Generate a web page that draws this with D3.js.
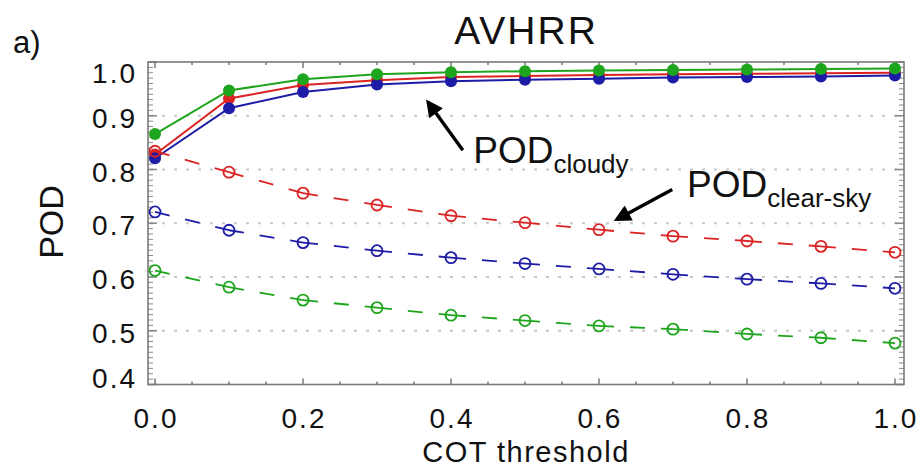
<!DOCTYPE html>
<html>
<head>
<meta charset="utf-8">
<script src="https://cdn.jsdelivr.net/npm/d3@7"></script>
<style>
  body { margin: 0; background: #fff; }
  text { font-family: "Liberation Sans", Arial, Helvetica, sans-serif; fill: #111; }
</style>
</head>
<body>
<div id="container"></div>
<script>
// data
const cot = [0.0, 0.1, 0.2, 0.3, 0.4, 0.5, 0.6, 0.7, 0.8, 0.9, 1.0];

const cloudyRed   = [0.828, 0.932, 0.957, 0.966, 0.972, 0.974, 0.976, 0.977, 0.978, 0.979, 0.980];
const cloudyBlue  = [0.821, 0.914, 0.944, 0.958, 0.964, 0.967, 0.969, 0.971, 0.972, 0.973, 0.975];
const cloudyGreen = [0.866, 0.947, 0.968, 0.977, 0.981, 0.983, 0.984, 0.985, 0.986, 0.987, 0.988];

const clearRed   = [0.834, 0.795, 0.756, 0.734, 0.714, 0.701, 0.688, 0.676, 0.667, 0.657, 0.646];
const clearBlue  = [0.721, 0.687, 0.664, 0.649, 0.636, 0.625, 0.615, 0.605, 0.596, 0.588, 0.579];
const clearGreen = [0.612, 0.581, 0.557, 0.543, 0.529, 0.519, 0.509, 0.503, 0.494, 0.487, 0.477];

const yTicks = [0.4, 0.5, 0.6, 0.7, 0.8, 0.9, 1.0];
const xTicks = [0.0, 0.2, 0.4, 0.6, 0.8, 1.0];
const gridLevels = [0.5, 0.6, 0.7, 0.8, 0.9];

const colors = { red: "#dc2323", blue: "#1c1ca6", green: "#1ea51e" };

/**
 * CONSTANTS
 * */
const width = 922, height = 467;
const frame = { left: 148, right: 904, top: 62, bottom: 384.5 };

const svg = d3.select("#container")
  .append("svg")
  .attr("width", width)
  .attr("height", height);

// x: 0 sits a little inside the left frame, 1.0 a little inside the right one
const x = d3.scaleLinear().domain([-0.0095, 1.0122]).range([frame.left, frame.right]);
const y = d3.scaleLinear().domain([0.4, 1.0]).range([frame.bottom, frame.top]);

// dotted grid
svg.selectAll(".grid")
  .data(gridLevels)
  .join("line")
  .attr("class", "grid")
  .attr("x1", frame.left + 2).attr("x2", frame.right - 2)
  .attr("y1", d => y(d)).attr("y2", d => y(d))
  .attr("stroke", "#c8c8c8")
  .attr("stroke-width", 2)
  .attr("stroke-dasharray", "3,9");

// minor/major ticks, IDL style (inward on all four sides)
const tickColor = "#8a8a8a";
const yMinor = d3.range(0, 61).map(i => 0.4 + i * 0.01);
const xMinor = d3.range(0, 21).map(i => i * 0.05);

[frame.left, frame.right].forEach((fx, side) => {
  const dir = side === 0 ? 1 : -1;
  svg.append("g").selectAll("line")
    .data(yMinor)
    .join("line")
    .attr("x1", fx)
    .attr("x2", (d, i) => fx + dir * (i % 10 === 0 ? 9 : 5))
    .attr("y1", d => y(d)).attr("y2", d => y(d))
    .attr("stroke", tickColor)
    .attr("stroke-width", (d, i) => i % 10 === 0 ? 1.6 : 1);
});

[frame.bottom, frame.top].forEach((fy, side) => {
  const dir = side === 0 ? -1 : 1;
  svg.append("g").selectAll("line")
    .data(xMinor)
    .join("line")
    .attr("x1", d => x(d)).attr("x2", d => x(d))
    .attr("y1", fy)
    .attr("y2", (d, i) => fy + dir * (i % 4 === 0 ? 6 : 3))
    .attr("stroke", "#555")
    .attr("stroke-width", 1.2);
});

// frame
svg.append("rect")
  .attr("x", frame.left).attr("y", frame.top)
  .attr("width", frame.right - frame.left)
  .attr("height", frame.bottom - frame.top)
  .attr("fill", "none")
  .attr("stroke", "#7a7a7a")
  .attr("stroke-width", 1.6);

// tick labels
svg.selectAll(".ylab")
  .data(yTicks)
  .join("text")
  .attr("class", "ylab")
  .attr("x", 137)
  .attr("y", d => {
    let c = y(d) + 2;
    c = Math.max(frame.top + 11, Math.min(frame.bottom - 7, c));
    return c + 10;
  })
  .attr("text-anchor", "end")
  .attr("font-size", 28)
  .attr("letter-spacing", 2)
  .text(d => d3.format(".1f")(d));

svg.selectAll(".xlab")
  .data(xTicks)
  .join("text")
  .attr("class", "xlab")
  .attr("x", d => x(d) + 1)
  .attr("y", 428)
  .attr("text-anchor", "middle")
  .attr("font-size", 28)
  .attr("letter-spacing", 2)
  .text(d => d3.format(".1f")(d));

// axis titles
svg.append("text")
  .attr("x", 526).attr("y", 462)
  .attr("text-anchor", "middle")
  .attr("font-size", 29)
  .attr("letter-spacing", 1.5)
  .text("COT threshold");

svg.append("text")
  .attr("transform", "translate(63,222) rotate(-90)")
  .attr("text-anchor", "middle")
  .attr("font-size", 34)
  .text("POD");

svg.append("text")
  .attr("x", 526).attr("y", 44)
  .attr("text-anchor", "middle")
  .attr("font-size", 39)
  .attr("letter-spacing", 2)
  .text("AVHRR");

svg.append("text")
  .attr("x", 13).attr("y", 53)
  .attr("font-size", 31)
  .text("a)");

// series
const cloudy = [
  { color: colors.red, values: cloudyRed },
  { color: colors.blue, values: cloudyBlue },
  { color: colors.green, values: cloudyGreen }
];
const clear = [
  { color: colors.red, values: clearRed },
  { color: colors.blue, values: clearBlue },
  { color: colors.green, values: clearGreen }
];

const line = d3.line().x((d, i) => x(cot[i])).y(d => y(d));

cloudy.forEach(s => {
  svg.append("path")
    .attr("d", line(s.values))
    .attr("fill", "none")
    .attr("stroke", s.color)
    .attr("stroke-width", 2);
  svg.append("g").selectAll("circle")
    .data(s.values)
    .join("circle")
    .attr("cx", (d, i) => x(cot[i]))
    .attr("cy", d => y(d))
    .attr("r", 6)
    .attr("fill", s.color);
});

clear.forEach(s => {
  // each segment restarts its dash pattern, like the IDL plot
  const segs = d3.pairs(s.values.map((v, i) => [cot[i], v]));
  svg.append("g").selectAll("line")
    .data(segs)
    .join("line")
    .attr("x1", d => x(d[0][0])).attr("y1", d => y(d[0][1]))
    .attr("x2", d => x(d[1][0])).attr("y2", d => y(d[1][1]))
    .attr("stroke", s.color)
    .attr("stroke-width", 1.8)
    .attr("stroke-dasharray", "15,16");
  svg.append("g").selectAll("circle")
    .data(s.values)
    .join("circle")
    .attr("cx", (d, i) => x(cot[i]))
    .attr("cy", d => y(d))
    .attr("r", 5.5)
    .attr("fill", "none")
    .attr("stroke", s.color)
    .attr("stroke-width", 1.8);
});

// annotations
svg.append("defs").append("marker")
  .attr("id", "head")
  .attr("viewBox", "0 0 10 10")
  .attr("refX", 8).attr("refY", 5)
  .attr("markerWidth", 5.5).attr("markerHeight", 5)
  .attr("markerUnits", "strokeWidth")
  .attr("orient", "auto")
  .append("path")
  .attr("d", "M0,0 L10,5 L0,10 z")
  .attr("fill", "#000");

const notes = [
  { tail: [0.416, 0.836], tip: [0.369, 0.925], at: [0.43, 0.812], sub: "cloudy" },
  { tail: [0.699, 0.763], tip: [0.624, 0.707], at: [0.719, 0.749], sub: "clear-sky" }
];

notes.forEach(n => {
  svg.append("line")
    .attr("x1", x(n.tail[0])).attr("y1", y(n.tail[1]))
    .attr("x2", x(n.tip[0])).attr("y2", y(n.tip[1]))
    .attr("stroke", "#000")
    .attr("stroke-width", 3.4)
    .attr("marker-end", "url(#head)");
  const t = svg.append("text")
    .attr("x", x(n.at[0])).attr("y", y(n.at[1]))
    .attr("font-size", 37);
  t.append("tspan").text("POD");
  t.append("tspan")
    .attr("font-size", 26)
    .attr("dy", 10)
    .text(n.sub);
});
</script>
</body>
</html>
